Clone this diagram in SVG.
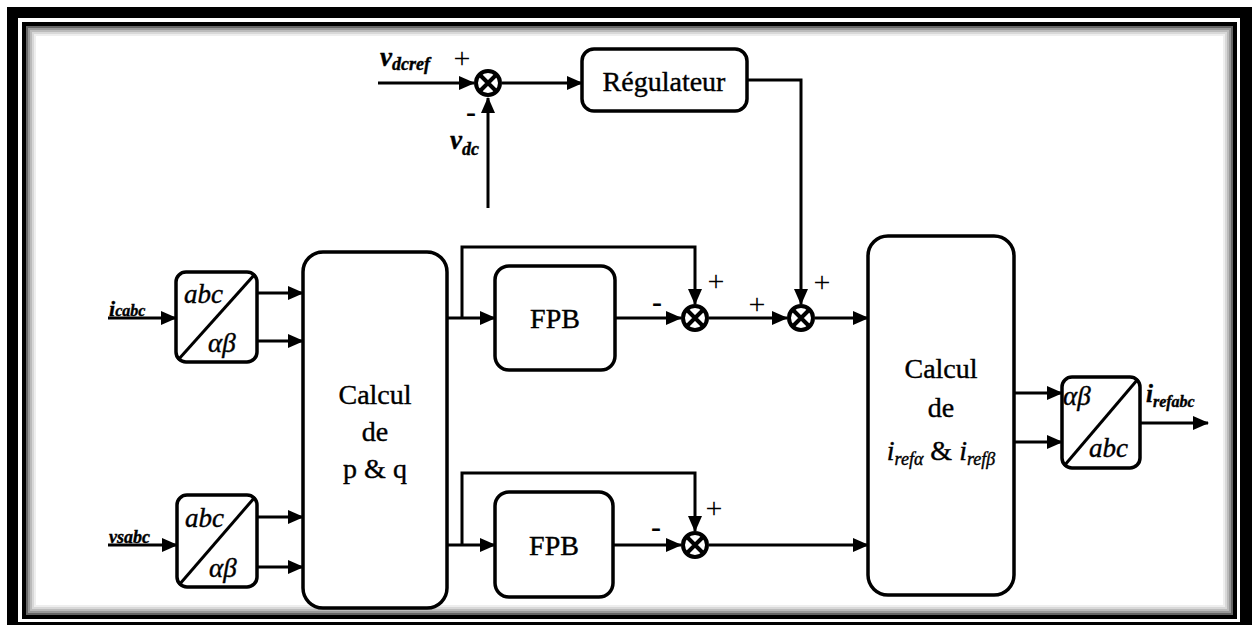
<svg xmlns="http://www.w3.org/2000/svg" width="1255" height="625" viewBox="0 0 1255 625">
<style>
.box{fill:#fff;stroke:#000;stroke-width:3.5}
.ln{fill:none;stroke:#000;stroke-width:3}
.t{font-family:"Liberation Serif","Times New Roman",serif;fill:#000;stroke:#000;stroke-width:0.4}
.it{font-style:italic;font-weight:bold}
.sg{font-family:"Liberation Serif","Times New Roman",serif;fill:#000;font-size:30px;text-anchor:middle}
.mn{font-family:"Liberation Serif","Times New Roman",serif;fill:#000;font-size:30px;font-weight:bold;text-anchor:middle}
</style>
<defs>
<marker id="ar" markerUnits="userSpaceOnUse" markerWidth="16" markerHeight="14" refX="15" refY="7" orient="auto">
<path d="M0,0 L16,7 L0,14 z" fill="#000"/>
</marker>
<g id="sumsym">
<circle cx="0" cy="0" r="12" fill="#fff" stroke="#000" stroke-width="4"/>
<path d="M-8,-8 L8,8 M8,-8 L-8,8" stroke="#000" stroke-width="4"/>
</g>
</defs>
<rect x="0" y="0" width="1255" height="625" fill="#fff"/>
<rect x="7" y="7" width="1245" height="625" fill="#000"/>
<rect x="18" y="18" width="1222" height="604" fill="#fff"/>
<rect x="24" y="24" width="1211" height="593" fill="none" stroke="#000" stroke-width="4"/>
<rect x="27" y="27" width="1205" height="587" fill="none" stroke="#666" stroke-width="2"/>
<rect x="29" y="29" width="1201" height="583" fill="none" stroke="#999" stroke-width="2"/>
<rect x="31" y="31" width="1197" height="579" fill="none" stroke="#bbb" stroke-width="2"/>
<rect x="33" y="33" width="1193" height="575" fill="none" stroke="#d8d8d8" stroke-width="2"/>
<rect x="35" y="35" width="1189" height="571" fill="none" stroke="#eee" stroke-width="2"/>

<g id="connectors">
<path class="ln" d="M378,83 L474,83" marker-end="url(#ar)"/>
<path class="ln" d="M488,208 L488,98" marker-end="url(#ar)"/>
<path class="ln" d="M502,83 L582,83" marker-end="url(#ar)"/>
<path class="ln" d="M747,80 L801,80 L801,304" marker-end="url(#ar)"/>
<path class="ln" d="M108,318 L176,318" marker-end="url(#ar)"/>
<path class="ln" d="M257,293 L303,293" marker-end="url(#ar)"/>
<path class="ln" d="M257,341 L303,341" marker-end="url(#ar)"/>
<path class="ln" d="M108,545 L177,545" marker-end="url(#ar)"/>
<path class="ln" d="M257,517 L303,517" marker-end="url(#ar)"/>
<path class="ln" d="M257,567 L303,567" marker-end="url(#ar)"/>
<path class="ln" d="M447,318 L495,318" marker-end="url(#ar)"/>
<path class="ln" d="M462,318 L462,247 L695,247 L695,304" marker-end="url(#ar)"/>
<path class="ln" d="M615,318 L681,318" marker-end="url(#ar)"/>
<path class="ln" d="M709,318 L787,318" marker-end="url(#ar)"/>
<path class="ln" d="M815,318 L868,318" marker-end="url(#ar)"/>
<path class="ln" d="M447,545 L495,545" marker-end="url(#ar)"/>
<path class="ln" d="M462,545 L462,473 L695,473 L695,531" marker-end="url(#ar)"/>
<path class="ln" d="M613,545 L681,545" marker-end="url(#ar)"/>
<path class="ln" d="M709,545 L868,545" marker-end="url(#ar)"/>
<path class="ln" d="M1014,393 L1062,393" marker-end="url(#ar)"/>
<path class="ln" d="M1014,442 L1062,442" marker-end="url(#ar)"/>
<path class="ln" d="M1140,423 L1208,423" marker-end="url(#ar)"/>
</g>

<g id="labels">
<text class="t it" x="380" y="66" font-size="27">v<tspan font-size="18" dy="4">dcref</tspan></text>
<text class="sg" x="462" y="68" font-size="36">+</text>
<text class="mn" x="471" y="122">-</text>
<text class="t it" x="450" y="149" font-size="27">v<tspan font-size="18" dy="6">dc</tspan></text>
<text class="t it" x="109" y="316" font-size="22">i<tspan font-size="16">cabc</tspan></text>
<text class="t it" x="109" y="543" font-size="18">vsabc</text>
<text class="t it" x="1146" y="402" font-size="25">i<tspan font-size="16" dy="5">refabc</tspan></text>
<text class="mn" x="657" y="312">-</text>
<text class="sg" x="716" y="291">+</text>
<text class="sg" x="757" y="314">+</text>
<text class="sg" x="822" y="292">+</text>
<text class="mn" x="656" y="537">-</text>
<text class="sg" x="714" y="518">+</text>
</g>

<g id="sum1"><use href="#sumsym" x="488" y="83"/></g>
<g id="sum2"><use href="#sumsym" x="695" y="318"/></g>
<g id="sum3"><use href="#sumsym" x="801" y="318"/></g>
<g id="sum4"><use href="#sumsym" x="695" y="545"/></g>

<g id="regulateur">
<rect class="box" x="582" y="49" width="165" height="62" rx="12"/>
<text class="t" x="664" y="91" font-size="28" text-anchor="middle">Régulateur</text>
</g>

<g id="abc1">
<rect class="box" x="176" y="272" width="81" height="90" rx="10"/>
<path class="ln" d="M178,360 L255,274"/>
<text class="t" font-style="italic" x="184" y="303" font-size="27">abc</text>
<text class="t" font-style="italic" x="208" y="352" font-size="27">αβ</text>
</g>

<g id="abc2">
<rect class="box" x="177" y="495" width="80" height="92" rx="10"/>
<path class="ln" d="M179,585 L255,497"/>
<text class="t" font-style="italic" x="185" y="527" font-size="27">abc</text>
<text class="t" font-style="italic" x="209" y="577" font-size="27">αβ</text>
</g>

<g id="calcul_pq">
<rect class="box" x="303" y="252" width="144" height="356" rx="20"/>
<text class="t" x="375" y="404" font-size="28" text-anchor="middle">Calcul</text>
<text class="t" x="375" y="441" font-size="28" text-anchor="middle">de</text>
<text class="t" x="375" y="478" font-size="28" text-anchor="middle">p &amp; q</text>
</g>

<g id="fpb1">
<rect class="box" x="495" y="266" width="120" height="104" rx="14"/>
<text class="t" x="555" y="328" font-size="28" text-anchor="middle">FPB</text>
</g>

<g id="fpb2">
<rect class="box" x="495" y="492" width="118" height="105" rx="14"/>
<text class="t" x="554" y="555" font-size="28" text-anchor="middle">FPB</text>
</g>

<g id="calcul_iref">
<rect class="box" x="868" y="236" width="146" height="359" rx="20"/>
<text class="t" x="941" y="378" font-size="28" text-anchor="middle">Calcul</text>
<text class="t" x="941" y="417" font-size="28" text-anchor="middle">de</text>
<text class="t" x="941" y="460" font-size="28" text-anchor="middle"><tspan font-style="italic">i</tspan><tspan font-style="italic" font-size="18" dy="5">refα</tspan><tspan dy="-5"> &amp; </tspan><tspan font-style="italic">i</tspan><tspan font-style="italic" font-size="18" dy="5">refβ</tspan></text>
</g>

<g id="abc3">
<rect class="box" x="1062" y="377" width="78" height="91" rx="10"/>
<path class="ln" d="M1064,466 L1138,379"/>
<text class="t" font-style="italic" x="1063" y="405" font-size="27">αβ</text>
<text class="t" font-style="italic" x="1089" y="457" font-size="27">abc</text>
</g>
</svg>
